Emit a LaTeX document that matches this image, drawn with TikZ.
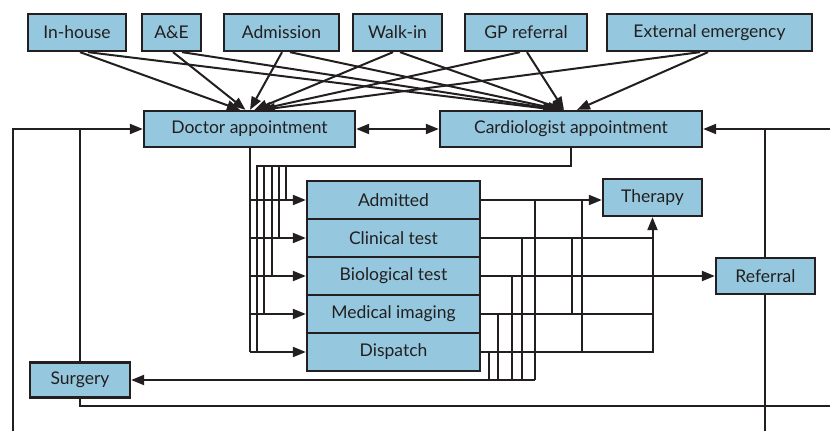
\documentclass[tikz,border=0pt]{standalone}
\usepackage{fontspec}
\setmainfont{Lato}
\usetikzlibrary{arrows.meta,backgrounds}
\definecolor{boxfill}{HTML}{95C8DE}
\definecolor{ink}{HTML}{231F20}
\begin{document}
\begin{tikzpicture}[x=1pt,y=-1pt,
  box/.style={draw=ink,fill=boxfill,line width=2.3pt,inner sep=0pt,
    font=\fontsize{17.5}{20}\selectfont,text=ink},
  wire/.style={draw=ink,line width=2pt},
  arr/.style={wire,-{Triangle[length=13pt,width=10pt]}},
  biarr/.style={wire,{Triangle[length=13pt,width=10pt]}-{Triangle[length=13pt,width=10pt]}}]
\useasboundingbox (0,0) rectangle (830,431);

% sources
\node[box,minimum width=98pt,minimum height=37pt] (inh) at (77,32.5) {In-house};
\node[box,minimum width=59pt,minimum height=37pt] (ae) at (171.5,32.5) {A\&E};
\node[box,minimum width=115pt,minimum height=37pt] (adm) at (281.5,32.5) {Admission};
\node[box,minimum width=89pt,minimum height=37pt] (walk) at (397.5,32.5) {Walk-in};
\node[box,minimum width=122pt,minimum height=37pt] (gp) at (526,32.5) {GP referral};
\node[box,minimum width=205pt,minimum height=37pt] (ext) at (709.5,32.5) {External emergency};

% appointments
\node[box,minimum width=211pt,minimum height=36pt] (doc) at (249.5,129) {Doctor appointment};
\node[box,minimum width=262pt,minimum height=36pt] (car) at (571,129) {Cardiologist appointment};

% stacked services
\node[box,minimum width=173pt,minimum height=38pt] (adt) at (393.5,200) {Admitted};
\node[box,minimum width=173pt,minimum height=38pt] (cli) at (393.5,238) {Clinical test};
\node[box,minimum width=173pt,minimum height=38pt] (bio) at (393.5,276) {Biological test};
\node[box,minimum width=173pt,minimum height=38pt] (med) at (393.5,314) {Medical imaging};
\node[box,minimum width=173pt,minimum height=38pt] (dis) at (393.5,352) {Dispatch};

% outcomes
\node[box,minimum width=99pt,minimum height=37pt] (ther) at (652.5,197.5) {Therapy};
\node[box,minimum width=99pt,minimum height=36pt] (ref) at (765.5,276) {Referral};
\node[box,minimum width=100pt,minimum height=35pt] (sur) at (80,380) {Surgery};

% junctions and loose ends
\coordinate (lb) at (13,431);
\coordinate (rt) at (830,129);
\coordinate (rb) at (765,431);
\coordinate (br) at (830,406);
\coordinate (cb) at (257,166);
\coordinate (s1) at (535,380);
\coordinate (s2) at (522,380);
\coordinate (s3) at (512,380);
\coordinate (s4) at (498,380);
\coordinate (s5) at (489,380);
\coordinate (t1) at (582,0);
\coordinate (t2) at (572,0);

\begin{pgfonlayer}{background}
% sources to both appointments
\foreach \s/\a/\b/\c/\d in {inh/3/11/-9.5/-15, ae/1.5/10.5/-4/-12,
    adm/0.5/8.5/0.5/-10, walk/-4.5/2.5/5/-7, gp/-6/1/8.5/-7, ext/-9.5/-1.5/12.5/6}{
  \draw[arr] ([xshift=\a pt]\s.south) -- ([xshift=\c pt]doc.north);
  \draw[arr] ([xshift=\b pt]\s.south) -- ([xshift=\d pt]car.north);
}
\draw[biarr] (doc.east) -- (car.west);

% outer loops
\draw[arr] (lb) -- (lb |- doc.west) -- (doc.west);
\draw[wire] (sur.north) -- (sur.north |- doc.west);
\draw[wire] (sur.south) -- (sur.south |- br) -- (br);
\draw[arr] (rt) -- (car.east);
\draw[wire] (rb) -- (rb |- car.east);

% doctor bus into the services
\draw[wire] (doc.south) -- (doc.south |- dis.west);
\foreach \n in {adt,cli,bio,med,dis}
  \draw[arr] (doc.south |- \n.west) -- (\n.west);

% cardiologist bus into the services
\draw[wire] (car.south) -- (car.south |- cb) -- (cb) -- (cb |- dis.west);
\foreach \n/\x in {adt/286,cli/279,bio/272,med/264}
  \draw[wire] (\x,166) -- (\x,0 |- \n.west);

% services to therapy and referral
\draw[arr] (adt.east) -- (adt.east -| ther.west);
\draw[wire] (cli.east) -- (cli.east -| ther.south);
\draw[wire] (med.east) -- (med.east -| ther.south);
\draw[arr] (dis.east) -- (dis.east -| ther.south) -- (ther.south);
\draw[arr] (bio.east) -- (ref.west);
\draw[wire] (adt.east -| t1) -- (dis.east -| t1);
\draw[wire] (cli.east -| t2) -- (med.east -| t2);

% services to surgery
\draw[wire] (adt.east -| s1) -- (s1);
\draw[wire] (cli.east -| s2) -- (s2);
\draw[wire] (bio.east -| s3) -- (s3);
\draw[wire] (med.east -| s4) -- (s4);
\draw[wire] (dis.east -| s5) -- (s5);
\draw[arr] (s1) -- (sur.east);
\end{pgfonlayer}
\end{tikzpicture}
\end{document}
